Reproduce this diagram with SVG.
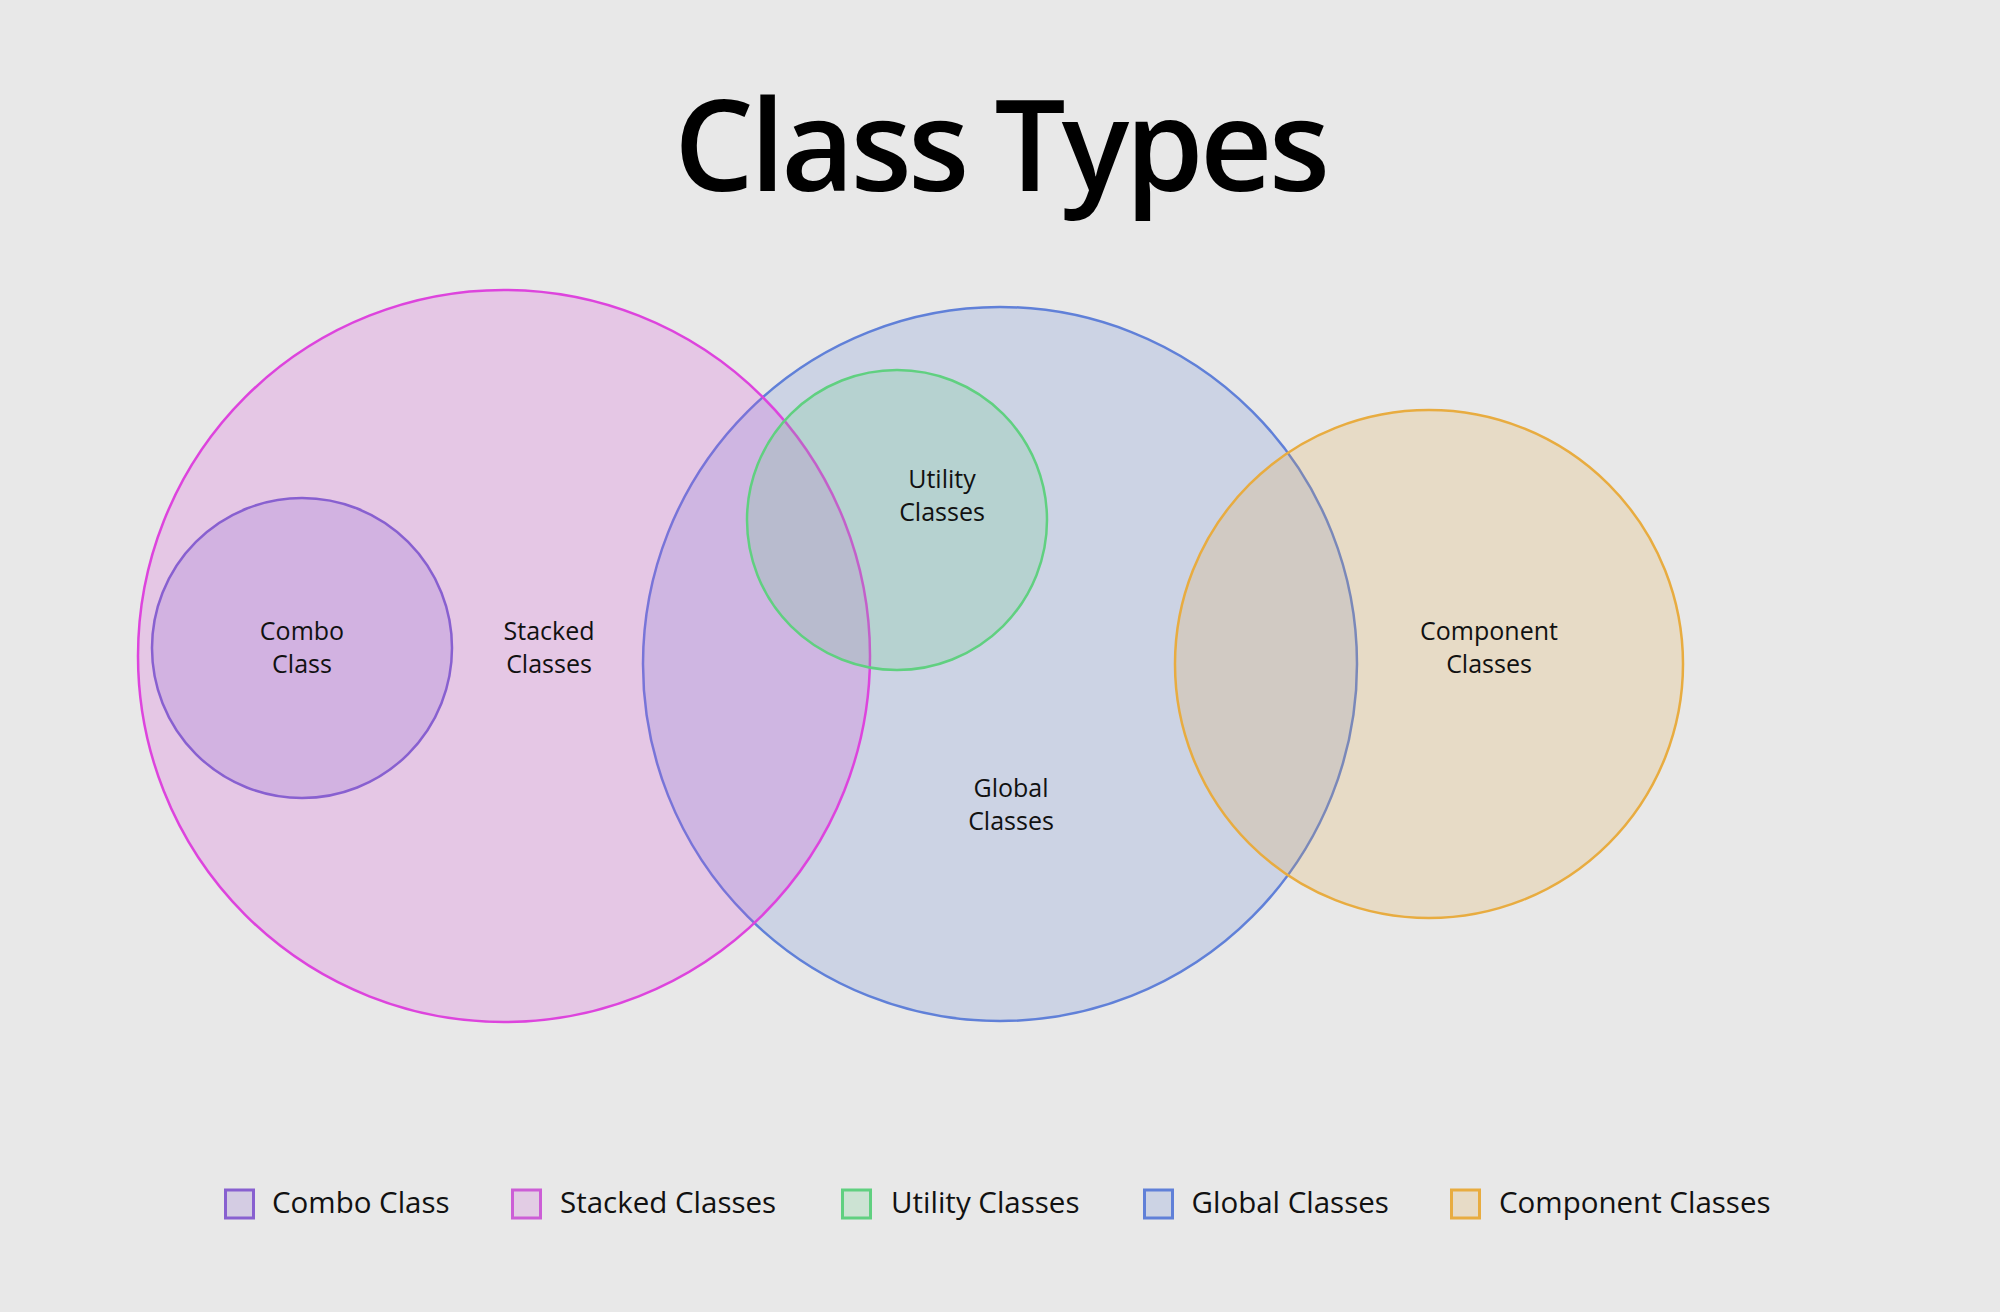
<svg xmlns="http://www.w3.org/2000/svg" width="2000" height="1312" viewBox="0 0 2000 1312">
  <style>
    .title { font-family: "Open Sans", "Noto Sans", sans-serif; font-weight: 600; font-size: 126px; fill: #000; }
    .lbl { font-family: "Open Sans", "Noto Sans", sans-serif; font-size: 25px; fill: #111; text-anchor: middle; }
    .leg { font-family: "Open Sans", "Noto Sans", sans-serif; font-size: 29.5px; fill: #111; }
    .set { stroke-width: 2.5; fill-opacity: 0.2; }
    .sw { stroke-width: 3; fill-opacity: 0.2; }
    .stacked { stroke: #dd44dd; fill: #dd44dd; }
    .combo { stroke: #8860d0; fill: #8860d0; }
    .global { stroke: #6080d8; fill: #6080d8; }
    .utility { stroke: #60d080; fill: #60d080; }
    .component { stroke: #e8ac40; fill: #e8ac40; }
  </style>
  <rect x="0" y="0" width="2000" height="1312" fill="#e8e8e8"/>
  <text class="title" x="1002" y="191" text-anchor="middle" textLength="656" lengthAdjust="spacing">Class Types</text>

  <g id="global-classes">
    <circle class="set global" cx="1000" cy="664" r="357"/>
  </g>
  <g id="stacked-classes">
    <circle class="set stacked" cx="504" cy="656" r="366"/>
  </g>
  <g id="combo-class">
    <circle class="set combo" cx="302" cy="648" r="150"/>
  </g>
  <g id="utility-classes">
    <circle class="set utility" cx="897" cy="520" r="150"/>
  </g>
  <g id="component-classes">
    <circle class="set component" cx="1429" cy="664" r="254"/>
  </g>

  <g id="labels">
    <text class="lbl" x="302" y="640">Combo</text>
    <text class="lbl" x="302" y="672.5">Class</text>
    <text class="lbl" x="549" y="640">Stacked</text>
    <text class="lbl" x="549" y="672.5">Classes</text>
    <text class="lbl" x="942" y="488">Utility</text>
    <text class="lbl" x="942" y="521">Classes</text>
    <text class="lbl" x="1011" y="797">Global</text>
    <text class="lbl" x="1011" y="830">Classes</text>
    <text class="lbl" x="1489" y="640">Component</text>
    <text class="lbl" x="1489" y="672.5">Classes</text>
  </g>

  <g id="connectors"></g>

  <g id="legend">
    <g id="legend-combo">
      <rect class="sw combo" x="225.5" y="1190" width="28" height="28"/>
      <text class="leg" x="272" y="1213">Combo Class</text>
    </g>
    <g id="legend-stacked">
      <rect class="sw stacked" x="512.5" y="1190" width="28" height="28" style="stroke:#cc5ed6;fill:#cc5ed6"/>
      <text class="leg" x="560" y="1213">Stacked Classes</text>
    </g>
    <g id="legend-utility">
      <rect class="sw utility" x="842.5" y="1190" width="28" height="28"/>
      <text class="leg" x="891" y="1213">Utility Classes</text>
    </g>
    <g id="legend-global">
      <rect class="sw global" x="1144.5" y="1190" width="28" height="28"/>
      <text class="leg" x="1191.5" y="1213">Global Classes</text>
    </g>
    <g id="legend-component">
      <rect class="sw component" x="1451.5" y="1190" width="28" height="28"/>
      <text class="leg" x="1499" y="1213">Component Classes</text>
    </g>
  </g>
</svg>
